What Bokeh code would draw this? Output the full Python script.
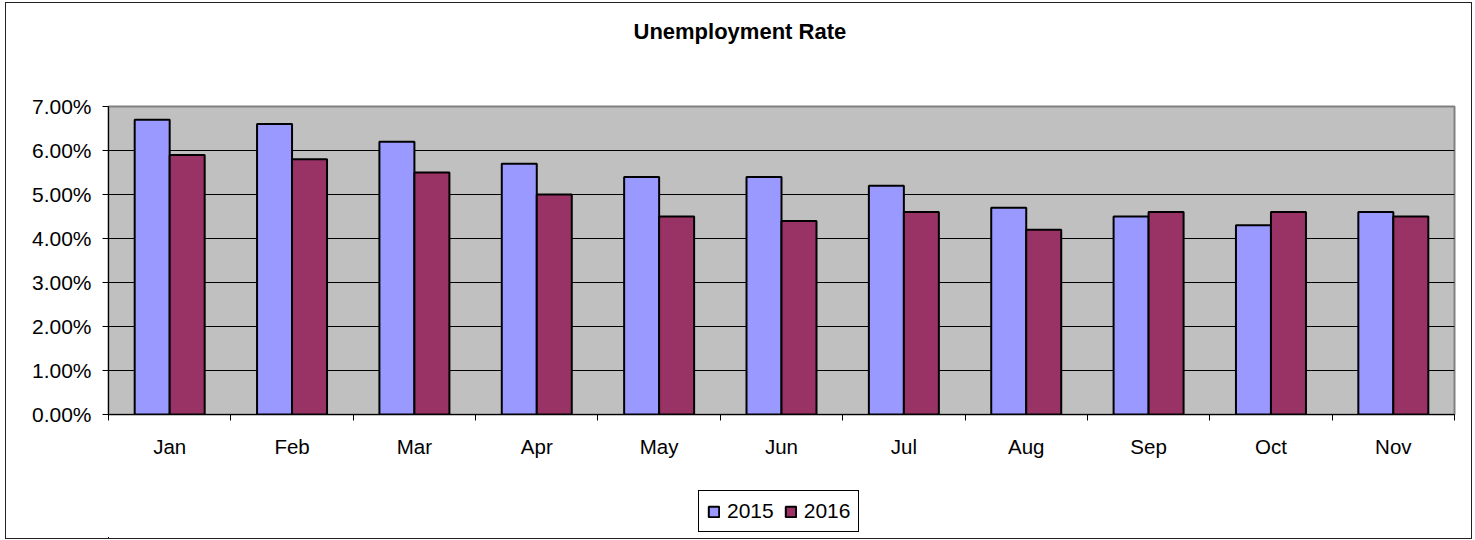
import numpy as np
from bokeh.plotting import figure
from bokeh.layouts import column
from bokeh.models import (ColumnDataSource, Range1d, FixedTicker, CustomJSTickFormatter,
                          PrintfTickFormatter, Legend, LegendItem, Title, InlineStyleSheet)
from bokeh.transform import dodge
from bokeh.embed import file_html
from bokeh.resources import INLINE

months = ["Jan", "Feb", "Mar", "Apr", "May", "Jun", "Jul", "Aug", "Sep", "Oct", "Nov"]
rate_2015 = [6.7, 6.6, 6.2, 5.7, 5.4, 5.4, 5.2, 4.7, 4.5, 4.3, 4.6]
rate_2016 = [5.9, 5.8, 5.5, 5.0, 4.5, 4.4, 4.6, 4.2, 4.6, 4.6, 4.5]
series = ["2015", "2016"]
colors = ["#9999FF", "#993366"]
y_ticks = [0, 1, 2, 3, 4, 5, 6, 7]

FONT = "Liberation Sans"

src = ColumnDataSource(dict(
    x=[i + 0.5 for i in range(len(months))],
    month=months,
    r2015=rate_2015,
    r2016=rate_2016,
))

# ---------------- main chart ----------------
p = figure(width=1465, height=457, output_backend="svg", toolbar_location=None,
           x_range=Range1d(0, len(months)), y_range=Range1d(0, 7),
           min_border_left=102, min_border_right=17, min_border_top=103, min_border_bottom=46,
           background_fill_color="#C0C0C0", border_fill_color="white",
           outline_line_color="#808080", outline_line_width=2)

p.title.text = "Unemployment Rate"
p.title.text_font = FONT
p.title.text_font_size = "22px"
p.title.text_font_style = "bold"
p.title.text_color = "black"
p.title.align = "left"
p.title.offset = 525
p.title.standoff = 0

spacer_title = Title(text="\u00a0", text_font_size="22px", standoff=36)
p.add_layout(spacer_title, "above")

bw = 0.286
r1 = p.vbar(x=dodge("x", -bw / 2, range=p.x_range), top="r2015", width=bw, source=src,
            fill_color=colors[0], line_color="black", line_width=2)
r2 = p.vbar(x=dodge("x", bw / 2, range=p.x_range), top="r2016", width=bw, source=src,
            fill_color=colors[1], line_color="black", line_width=2)

p.xgrid.visible = False
p.ygrid.grid_line_color = "black"
p.ygrid.grid_line_width = 1
p.ygrid.ticker = FixedTicker(ticks=y_ticks)

xa = p.xaxis[0]
xa.ticker = FixedTicker(ticks=[i + 0.5 for i in range(len(months))],
                        minor_ticks=list(range(len(months) + 1)))
xa.formatter = CustomJSTickFormatter(args=dict(months=months),
                                     code="return months[Math.floor(tick)];")
xa.major_tick_out = 0
xa.major_tick_in = 0
xa.major_tick_line_color = None
xa.minor_tick_out = 6
xa.minor_tick_in = 0
xa.minor_tick_line_color = "black"
xa.axis_line_color = "black"
xa.major_label_standoff = 14
xa.major_label_text_font = FONT
xa.major_label_text_font_size = "20.5px"
xa.major_label_text_color = "black"

ya = p.yaxis[0]
ya.ticker = FixedTicker(ticks=y_ticks)
ya.formatter = PrintfTickFormatter(format="%.2f%%")
ya.major_tick_out = 6
ya.major_tick_in = 0
ya.minor_tick_line_color = None
ya.axis_line_color = "black"
ya.major_tick_line_color = "black"
ya.major_label_standoff = 11
ya.major_label_text_font = FONT
ya.major_label_text_font_size = "21px"
ya.major_label_text_color = "black"

# ---------------- legend strip ----------------
# The same bars are drawn in this strip, far outside its visible range,
# so that the legend can show their swatches below the chart.
q = figure(width=1465, height=78, output_backend="svg", toolbar_location=None,
           x_range=Range1d(1000, 1001), y_range=Range1d(1000, 1001),
           x_axis_location=None, y_axis_location=None,
           min_border=0, min_border_left=0, min_border_right=0,
           min_border_top=0, min_border_bottom=0,
           outline_line_color=None, background_fill_color="white",
           border_fill_color="white")
q.grid.visible = False
items = []
for name, col, field in zip(series, colors, ["r2015", "r2016"]):
    rr = q.vbar(x="x", top=field, width=bw, source=src,
                fill_color=col, line_color="black", line_width=2)
    items.append(LegendItem(label=name, renderers=[rr]))

legend = Legend(items=items, orientation="horizontal", location=(590, 6),
                label_text_font=FONT, label_text_font_size="21px", label_text_color="black",
                glyph_width=13, glyph_height=13, label_standoff=7, spacing=10,
                padding=8, margin=0,
                border_line_color="black", border_line_width=1, border_line_alpha=1,
                background_fill_color="white", background_fill_alpha=1)
q.add_layout(legend)

layout = column(p, q, spacing=0, margin=(2, 0, 0, 5),
                stylesheets=[InlineStyleSheet(css=":host { border: 1px solid #222222; }")])

open("out.html", "w").write(file_html(layout, INLINE))
